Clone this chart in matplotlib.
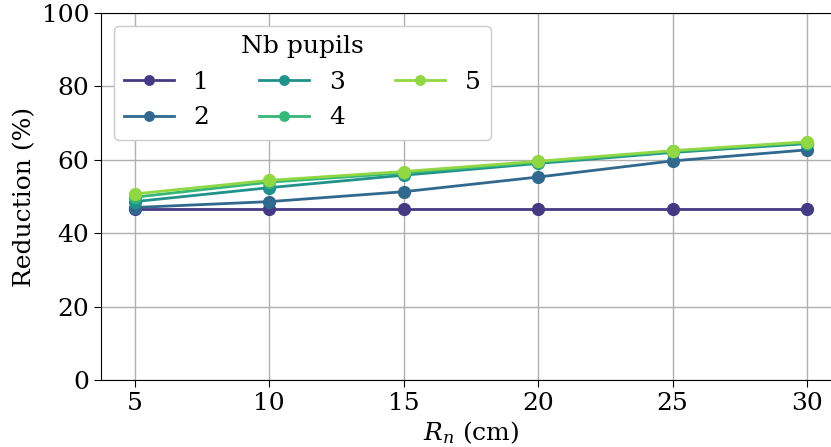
import matplotlib
matplotlib.use("Agg")
import matplotlib.pyplot as plt
import numpy as np

plt.rcParams['font.family'] = ['DejaVu Serif']
plt.rcParams['mathtext.fontset'] = 'dejavuserif'

radius = [5, 10, 15, 20, 25, 30]
series_names = ["1", "2", "3", "4", "5"]
red_1 = [46.6, 46.6, 46.6, 46.6, 46.6, 46.6]
red_2 = [47.0, 48.6, 51.3, 55.3, 59.7, 62.7]
red_3 = [48.6, 52.4, 55.8, 59.0, 62.0, 64.4]
red_4 = [49.8, 53.9, 56.4, 59.3, 62.3, 64.7]
red_5 = [50.7, 54.4, 56.8, 59.6, 62.5, 64.9]
colors = ["#443983", "#31688e", "#21918c", "#35b779", "#90d743"]

fig = plt.figure(figsize=(8.31, 4.47), dpi=100)
ax = fig.add_axes([101/831, 67/447, 739.6/831, 367/447])
for name, vals, c in zip(series_names, [red_1, red_2, red_3, red_4, red_5], colors):
    ax.plot(radius, vals, '-o', color=c, lw=2, ms=8.5, label=name, zorder=3)

ax.set_xlim(3.75, 31.25)
ax.set_ylim(0, 100)
ax.set_xticks([5, 10, 15, 20, 25, 30])
ax.set_yticks([0, 20, 40, 60, 80, 100])
ax.grid(True, color='#b0b0b0', lw=1)
ax.set_axisbelow(True)
ax.tick_params(labelsize=18, length=5)
ax.set_xlabel(r'$R_n$ (cm)', fontsize=18, labelpad=3)
ax.set_ylabel('Reduction (%)', fontsize=18, labelpad=4)
leg = ax.legend(title='Nb pupils', ncol=3, loc='upper left', fontsize=18,
                title_fontsize=18, framealpha=1, markerscale=0.8,
                edgecolor='#cccccc', columnspacing=2.0)
fig.savefig('out.png', dpi=100)
